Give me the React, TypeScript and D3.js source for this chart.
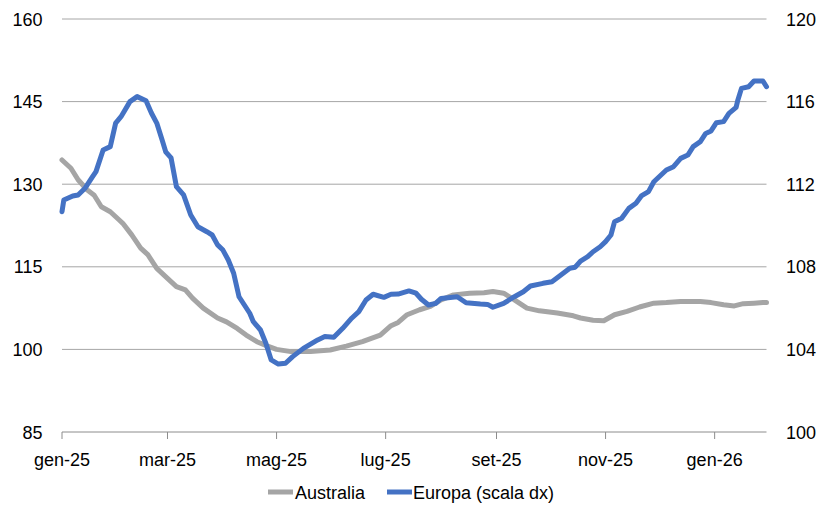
import React from "react";
import * as d3 from "d3";

const monthLabels = ["gen", "feb", "mar", "apr", "mag", "giu", "lug", "ago", "set", "ott", "nov", "dic"];
const leftTicks = [85, 100, 115, 130, 145, 160];
const rightTicks = [100, 104, 108, 112, 116, 120];

const australiaDates = [
  "2025-01-01", "2025-01-06", "2025-01-10", "2025-01-15", "2025-01-19", "2025-01-23", "2025-01-28",
  "2025-02-02", "2025-02-04", "2025-02-09", "2025-02-14", "2025-02-18", "2025-02-23", "2025-03-01",
  "2025-03-06", "2025-03-11", "2025-03-15", "2025-03-21", "2025-03-29", "2025-04-03", "2025-04-09",
  "2025-04-14", "2025-04-20", "2025-04-26", "2025-05-01", "2025-05-09", "2025-05-20", "2025-05-31",
  "2025-06-09", "2025-06-18", "2025-06-28", "2025-07-04", "2025-07-08", "2025-07-13", "2025-07-20",
  "2025-07-26", "2025-08-01", "2025-08-08", "2025-08-17", "2025-08-25", "2025-08-30", "2025-09-05",
  "2025-09-11", "2025-09-18", "2025-09-25", "2025-10-05", "2025-10-14", "2025-10-18", "2025-10-25",
  "2025-10-31", "2025-11-06", "2025-11-13", "2025-11-20", "2025-11-28", "2025-12-05", "2025-12-13",
  "2025-12-24", "2025-12-30", "2026-01-06", "2026-01-12", "2026-01-17", "2026-01-23", "2026-01-28",
  "2026-01-30",
];
const australiaValues = [
  134.4, 132.9, 130.8, 129.0, 128.0, 125.9, 125.0,
  123.5, 122.9, 120.8, 118.4, 117.2, 114.7, 112.9,
  111.4, 110.8, 109.3, 107.5, 105.7, 105.0, 103.8,
  102.6, 101.4, 100.6, 100.0, 99.6, 99.6, 99.9,
  100.6, 101.4, 102.6, 104.3, 104.9, 106.3, 107.2,
  107.8, 109.0, 109.9, 110.2, 110.3, 110.5, 110.2,
  109.0, 107.5, 107.0, 106.6, 106.1, 105.7, 105.3,
  105.2, 106.3, 106.9, 107.7, 108.4, 108.5, 108.7,
  108.7, 108.5, 108.1, 107.9, 108.3, 108.4, 108.5,
  108.5,
];

const europaDates = [
  "2025-01-01", "2025-01-02", "2025-01-07", "2025-01-10", "2025-01-14", "2025-01-18", "2025-01-20",
  "2025-01-24", "2025-01-28", "2025-01-31", "2025-02-03", "2025-02-08", "2025-02-12", "2025-02-17",
  "2025-02-20", "2025-02-23", "2025-02-26", "2025-02-28", "2025-03-03", "2025-03-06", "2025-03-10",
  "2025-03-14", "2025-03-18", "2025-03-23", "2025-03-26", "2025-03-29", "2025-04-01", "2025-04-04",
  "2025-04-07", "2025-04-10", "2025-04-13", "2025-04-16", "2025-04-18", "2025-04-22", "2025-04-25",
  "2025-04-28", "2025-05-02", "2025-05-06", "2025-05-10", "2025-05-16", "2025-05-24", "2025-05-28",
  "2025-06-02", "2025-06-07", "2025-06-12", "2025-06-16", "2025-06-20", "2025-06-24", "2025-06-30",
  "2025-07-04", "2025-07-08", "2025-07-14", "2025-07-18", "2025-07-21", "2025-07-25", "2025-07-29",
  "2025-08-01", "2025-08-10", "2025-08-15", "2025-08-23", "2025-08-27", "2025-08-30", "2025-09-05",
  "2025-09-11", "2025-09-16", "2025-09-20", "2025-09-27", "2025-10-02", "2025-10-07", "2025-10-12",
  "2025-10-15", "2025-10-18", "2025-10-22", "2025-10-25", "2025-10-29", "2025-11-01", "2025-11-04",
  "2025-11-06", "2025-11-10", "2025-11-14", "2025-11-18", "2025-11-21", "2025-11-25", "2025-11-28",
  "2025-12-05", "2025-12-09", "2025-12-13", "2025-12-17", "2025-12-20", "2025-12-24", "2025-12-27",
  "2025-12-30", "2026-01-02", "2026-01-06", "2026-01-09", "2026-01-13", "2026-01-14", "2026-01-16",
  "2026-01-20", "2026-01-23", "2026-01-28", "2026-01-30",
];
const europaValues = [
  110.67, 111.23, 111.43, 111.48, 111.82, 112.35, 112.61,
  113.66, 113.82, 114.96, 115.27, 116.0, 116.24, 116.04,
  115.45, 114.96, 114.14, 113.57, 113.27, 111.88, 111.48,
  110.51, 109.94, 109.7, 109.54, 109.06, 108.81, 108.33,
  107.69, 106.55, 106.15, 105.75, 105.34, 104.94, 104.3,
  103.49, 103.29, 103.33, 103.65, 104.05, 104.46, 104.62,
  104.59, 105.02, 105.51, 105.83, 106.39, 106.67, 106.52,
  106.67, 106.68, 106.83, 106.72, 106.43, 106.15, 106.23,
  106.47, 106.55, 106.26, 106.2, 106.18, 106.04, 106.23,
  106.55, 106.79, 107.07, 107.2, 107.28, 107.6, 107.93,
  107.98, 108.28, 108.49, 108.73, 108.97, 109.22, 109.54,
  110.18, 110.35, 110.83, 111.08, 111.43, 111.64, 112.12,
  112.69, 112.85, 113.25, 113.41, 113.82, 114.06, 114.46,
  114.58, 114.98, 115.03, 115.43, 115.72, 116.08, 116.64,
  116.72, 117.0, 117.0, 116.72,
];

const W = 819;
const H = 505;
const FONT = "'Liberation Sans', Arial, sans-serif";

export default function App() {
  const parse = d3.timeParse("%Y-%m-%d");
  const aus = australiaDates.map((d, i) => ({ date: parse(d) as Date, v: australiaValues[i] }));
  const eur = europaDates.map((d, i) => ({ date: parse(d) as Date, v: europaValues[i] }));

  const x = d3
    .scaleTime()
    .domain([parse("2025-01-01") as Date, parse("2026-01-30") as Date])
    .range([62, 766.5]);
  const yL = d3.scaleLinear().domain([85, 160]).range([432, 19]);
  const yR = d3.scaleLinear().domain([100, 120]).range([432, 19]);

  const lineL = d3
    .line<{ date: Date; v: number }>()
    .x((d) => x(d.date))
    .y((d) => yL(d.v));
  const lineR = d3
    .line<{ date: Date; v: number }>()
    .x((d) => x(d.date))
    .y((d) => yR(d.v));

  const xTicks = d3.timeMonth.every(2)!.range(parse("2025-01-01") as Date, parse("2026-01-31") as Date);
  const [x0, x1] = x.range();

  return (
    <svg
      width={W}
      height={H}
      style={{ position: "absolute", left: 0, top: 0, background: "#fff" }}
      fontFamily={FONT}
    >
      {leftTicks.map((t) =>
        t === 85 ? null : (
          <line key={"g" + t} x1={x0} x2={x1} y1={yL(t)} y2={yL(t)} stroke="#A6A6A6" strokeWidth={1} />
        )
      )}
      <line x1={x0} x2={x1} y1={yL(85)} y2={yL(85)} stroke="#8C8C8C" strokeWidth={1} />
      {xTicks.map((d, i) => (
        <g key={"x" + i}>
          <line x1={x(d)} x2={x(d)} y1={yL(85)} y2={yL(85) + 7} stroke="#8C8C8C" strokeWidth={1} />
          <text x={x(d)} y={465.5} textAnchor="middle" fontSize={18} fill="#000">
            {monthLabels[d.getMonth()] + "-" + String(d.getFullYear()).slice(2)}
          </text>
        </g>
      ))}
      {leftTicks.map((t) => (
        <text key={"l" + t} x={42.5} y={yL(t) + 6.5} textAnchor="end" fontSize={18} fill="#000">
          {t}
        </text>
      ))}
      {rightTicks.map((t) => (
        <text key={"r" + t} x={786} y={yR(t) + 6.5} textAnchor="start" fontSize={18} fill="#000">
          {t}
        </text>
      ))}
      <path d={lineL(aus) || ""} fill="none" stroke="#A5A5A5" strokeWidth={5} strokeLinejoin="round" strokeLinecap="round" />
      <path d={lineR(eur) || ""} fill="none" stroke="#4472C4" strokeWidth={5} strokeLinejoin="round" strokeLinecap="round" />
      <g>
        <line x1={268} x2={293} y1={492} y2={492} stroke="#A5A5A5" strokeWidth={5} />
        <text x={295} y={498.5} fontSize={18} fill="#000">Australia</text>
        <line x1={387} x2={412} y1={492} y2={492} stroke="#4472C4" strokeWidth={5} />
        <text x={413} y={498.5} fontSize={18} fill="#000">Europa (scala dx)</text>
      </g>
    </svg>
  );
}
